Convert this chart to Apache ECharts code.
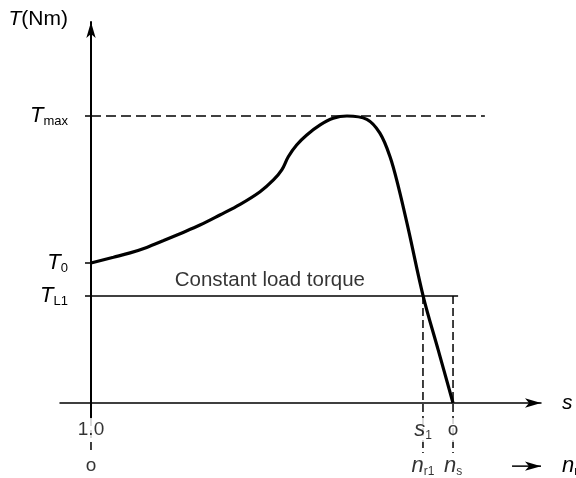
<!DOCTYPE html>
<html><head><meta charset="utf-8">
<script src="https://cdn.jsdelivr.net/npm/echarts@6/dist/echarts.min.js"></script>
<style>html,body{margin:0;padding:0;background:#fff}#c{width:576px;height:478px}</style>
</head><body><div id="c"></div>
<script>
// x: rotor speed in % of synchronous speed (0 -> s = 1.0, 100 -> s = 0); y: torque in % of Tmax
const speed  = [0, 6.2, 10.8, 15.4, 19.9, 24.6, 30.1, 35.6, 41.2, 46.7, 50.4, 52.7, 54.5, 56.8, 59.6, 63.3, 66.9, 70.7, 76.2, 79.8, 82.6, 84.9, 87.7, 91.8, 95.9, 100];
const torque = [48.8, 50.8, 52.3, 54.2, 56.5, 59.0, 62.0, 65.5, 69.2, 73.6, 77.7, 81.2, 85.8, 89.9, 93.4, 96.9, 99.2, 100, 98.8, 94.0, 85.8, 75.4, 60.3, 37.0, 18.5, 0];

const T_MAX = 100, T_0 = 48.8, T_L1 = 37.3;
const S1_SPEED = 91.7, NS_SPEED = 100;
const yTickValues = [T_MAX, T_0, T_L1];
const yTickSubs = ['max', '0', 'L1'];

const xKeyValues = [0, S1_SPEED, NS_SPEED];
const row1Main = ['1.0', 's', 'o'];
const row1Sub  = ['', '1', ''];
const row1Ital = [false, true, false];
const row2Main = ['o', 'n', 'n'];
const row2Sub  = ['', 'r1', 's'];
const row2Ital = [false, true, true];

const loadLabel = 'Constant load torque';
const xAxisName = 's';
const speedName = ['n', 'r'];
const yAxisName = ['T', '(Nm)'];

// ranges (data units)
const X_MIN = -8.56, X_MAX = 124.3, Y_MIN = -5.23, Y_MAX = 132.75;
const TMAX_END = 108.8, TL1_END = 101.4;
const ROW1_Y = -9.4, ROW2_Y = -22.0, DASH_BOTTOM = -17.4;
const LOAD_LABEL_X = 49.4, LOAD_LABEL_Y = 42.7;
const NR_ARROW_START = 116.3;

const F = "'Liberation Sans', Arial, Helvetica, sans-serif";
const rich = {
  i: {fontFamily: F, fontStyle: 'italic', fontSize: 22, color: '#000', lineHeight: 24},
  u: {fontFamily: F, fontSize: 19, color: '#000', lineHeight: 24},
  c: {fontFamily: F, fontSize: 20.5, color: '#000', lineHeight: 24},
  s: {fontFamily: F, fontSize: 12, color: '#000', lineHeight: 24, verticalAlign: 'bottom'},
  T: {fontFamily: F, fontStyle: 'italic', fontSize: 22, color: '#000', lineHeight: 24},
  ts: {fontFamily: F, fontSize: 13, color: '#000', lineHeight: 24, verticalAlign: 'bottom'},
  n: {fontFamily: F, fontSize: 21, color: '#000'},
  ni: {fontFamily: F, fontStyle: 'italic', fontSize: 21, color: '#000'}
};

function richLabel(main, sub, ital) {
  let s = '{' + (ital ? 'i' : 'u') + '|' + main + '}';
  if (sub) s += '{s|' + sub + '}';
  return s;
}

const labelData = [];
xKeyValues.forEach((x, k) => {
  labelData.push({value: [x, ROW1_Y], text: richLabel(row1Main[k], row1Sub[k], row1Ital[k])});
  labelData.push({value: [x, ROW2_Y], text: richLabel(row2Main[k], row2Sub[k], row2Ital[k])});
});
labelData.push({value: [LOAD_LABEL_X, LOAD_LABEL_Y], text: '{c|' + loadLabel + '}', bg: 'transparent'});

const black = '#000';
const chart = echarts.init(document.getElementById('c'), null, {renderer: 'canvas'});

const verticals = [
  [[S1_SPEED, T_L1], [S1_SPEED, DASH_BOTTOM]],
  [[NS_SPEED, T_L1], [NS_SPEED, DASH_BOTTOM]],
  [[0, Y_MIN], [0, DASH_BOTTOM]]
];

const option = {
  animation: false,
  backgroundColor: '#fff',
  grid: {left: 60, right: 35, top: 22, bottom: 60, containLabel: false, outerBoundsMode: 'none'},
  xAxis: {
    type: 'value', min: X_MIN, max: X_MAX,
    axisLine: {show: true, onZero: true, symbol: ['none', 'arrow'], symbolSize: [7, 16], lineStyle: {color: black, width: 1.5}},
    axisTick: {show: false}, axisLabel: {show: false}, splitLine: {show: false},
    name: xAxisName, nameLocation: 'end', nameGap: 21, nameMoveOverlap: false,
    nameTextStyle: {fontFamily: F, fontStyle: 'italic', fontSize: 21, color: black, align: 'left', verticalAlign: 'middle'}
  },
  yAxis: {
    type: 'value', min: Y_MIN, max: Y_MAX,
    axisLine: {show: true, onZero: true, symbol: ['none', 'arrow'], symbolSize: [7, 16], lineStyle: {color: black, width: 2}},
    axisTick: {show: true, customValues: yTickValues, length: 6, inside: false, lineStyle: {color: black, width: 1.5}},
    axisLabel: {
      show: true, customValues: yTickValues, margin: -8,
      formatter: function (v) {
        const k = yTickValues.indexOf(v);
        return '{T|T}{ts|' + (k >= 0 ? yTickSubs[k] : '') + '}';
      },
      rich: rich
    },
    splitLine: {show: false},
    name: '{ni|' + yAxisName[0] + '}{n|' + yAxisName[1] + '}', nameLocation: 'end', nameGap: 3, nameMoveOverlap: false,
    nameTextStyle: {align: 'right', verticalAlign: 'middle', padding: [0, 23, 0, 0], rich: rich}
  },
  series: [
    {
      type: 'line', name: 'Tmax', z: 2, clip: false, symbol: 'none',
      data: [[0, T_MAX], [TMAX_END, T_MAX]],
      lineStyle: {color: black, width: 1.5, type: [10, 5]}
    },
    {
      type: 'line', name: 'TL1', z: 2, clip: false, symbol: 'none',
      data: [[0, T_L1], [TL1_END, T_L1]],
      lineStyle: {color: black, width: 1.5}
    },
    ...verticals.map(d => ({
      type: 'line', z: 2, clip: false, symbol: 'none', data: d,
      lineStyle: {color: black, width: 1.5, type: [8, 4]}
    })),
    {
      type: 'line', name: 'curve', z: 3, clip: false, symbol: 'none', smooth: 0.35,
      data: speed.map((x, k) => [x, torque[k]]),
      lineStyle: {color: black, width: 3.2}
    },
    {
      type: 'line', name: 'speedArrow', z: 3, clip: false,
      data: [
        {value: [NR_ARROW_START, ROW2_Y], symbol: 'none'},
        {value: [X_MAX, ROW2_Y], symbol: 'arrow', symbolSize: [7, 16], symbolRotate: -90,
         label: {show: true, position: 'right', distance: 21, formatter: '{i|' + speedName[0] + '}{s|' + speedName[1] + '}', rich: rich}}
      ],
      showSymbol: true, showAllSymbol: true,
      itemStyle: {color: black}, lineStyle: {color: black, width: 1.5}
    },
    {
      type: 'scatter', z: 10, clip: false, symbolSize: 1, itemStyle: {color: 'rgba(0,0,0,0)'},
      data: labelData.map(d => ({
        value: d.value,
        label: {
          show: true, position: 'inside', formatter: d.text, rich: rich,
          backgroundColor: d.bg || '#fff', padding: [0, 2]
        }
      }))
    }
  ]
};
chart.setOption(option);
</script>
</body></html>
